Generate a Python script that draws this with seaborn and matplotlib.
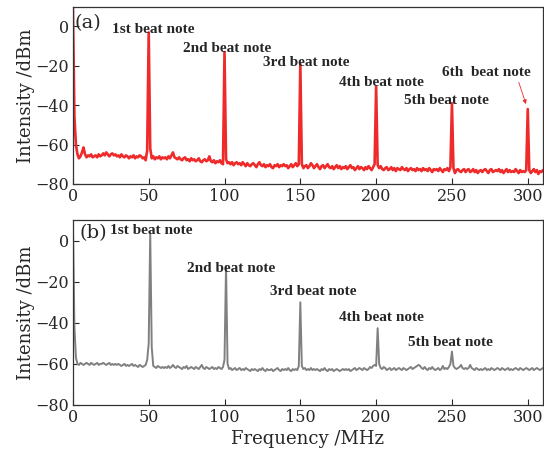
import numpy as np
import pandas as pd
import seaborn as sns
import matplotlib.pyplot as plt

# Spectrum (a), 1 MHz steps from 0 to 310 MHz, dBm
spec_a = [
    10, -46, -60, -65, -67, -66, -64, -61.5, -65, -66.5,
    -65.5, -66, -65, -66.5, -66, -65.5, -66.5, -65, -66, -65.5,
    -64.5, -65.5, -64, -65, -66, -65, -64.5, -65.5, -65, -66,
    -65.5, -66.5, -65, -66, -66.5, -65.5, -66, -67, -66, -66.5,
    -65.5, -67, -66, -66.5, -65.5, -66, -67, -66.5, -68, -63,
    -3, -62, -67, -66, -67.5, -66.5, -67, -66, -67.5, -66.5,
    -67, -66.5, -67.5, -66, -67, -65.5, -64, -66.5, -67, -67.5,
    -66.5, -67.5, -68, -67, -66.5, -68, -67.5, -68.5, -67, -68,
    -67.5, -68.5, -68, -67, -68.5, -69, -68, -67.5, -68.5, -68,
    -66, -68.5, -69, -68, -69.5, -68.5, -69, -68, -69.5, -70,
    -13, -67.5, -69.5, -69, -70, -69, -70.5, -69.5, -69, -70,
    -69.5, -70.5, -69, -70, -71, -69.5, -70.5, -71, -70, -69.5,
    -70.5, -71.5, -70, -69, -70.5, -71, -70, -71.5, -70.5, -71,
    -70, -71.5, -72, -70.5, -71, -70, -71.5, -70.5, -71, -70,
    -71, -70.5, -72, -71, -70, -71.5, -70.5, -69.5, -71, -70,
    -19, -70, -72, -71, -70.5, -72, -71, -69.5, -70.5, -72,
    -71, -70, -71.5, -72.5, -71, -70.5, -72, -71, -70, -71.5,
    -72, -71, -72.5, -71.5, -70.5, -72, -71, -72.5, -71.5, -72,
    -71, -72.5, -71.5, -70.5, -72, -71.5, -73, -72, -71, -72.5,
    -71.5, -72, -73, -71.5, -72.5, -71, -72, -73, -71.5, -70,
    -30.5, -70.5, -72, -71, -72.5, -73, -72, -71.5, -73, -72.5,
    -71.5, -73, -72, -73.5, -72, -72.5, -73, -71.5, -72.5, -73,
    -72, -73.5, -72.5, -72, -73, -72.5, -73.5, -72, -73, -72.5,
    -73.5, -72, -73, -72.5, -73.5, -72, -73, -74, -72.5, -73,
    -72.5, -73.5, -72, -73, -74, -72.5, -73, -72, -73.5, -71.5,
    -39, -72, -74.5, -73, -72.5, -73.5, -74, -73, -72.5, -74,
    -73, -72.5, -74, -73.5, -72.5, -74, -73, -74.5, -73.5, -73,
    -74, -73, -72.5, -73.5, -74.5, -73, -72.5, -74, -73.5, -73,
    -73.5, -72.5, -74, -73, -74.5, -73.5, -72.5, -74, -73, -74,
    -73.5, -74, -72.5, -73.5, -74.5, -73, -74, -73.5, -74, -73,
    -42, -73, -74.5, -73.5, -72.5, -74, -73, -75, -73.5, -74, -73,
]

# Spectrum (b), same frequency grid
spec_b = [
    10, -42, -57, -60, -60.5, -59.5, -60, -60.5, -60, -59.5,
    -60, -60.5, -59.5, -60, -60.5, -60, -59.5, -60.5, -60, -60,
    -59.5, -60, -60.5, -60, -59.5, -60.5, -60, -60.5, -60, -60.5,
    -60, -60.5, -61, -60.5, -60, -61, -60.5, -61, -60.5, -60,
    -61, -60.5, -61, -61.5, -60.5, -61, -61.5, -61, -60.5, -58,
    -50, 3.7, -52, -61, -61.5, -62, -61, -61.5, -62, -61.5,
    -62, -61.5, -62, -61, -62, -61.5, -60.5, -61.5, -62, -61,
    -61.5, -62, -62.5, -61.5, -62, -61, -62.5, -62, -61.5, -62,
    -62.5, -61.5, -62, -62.5, -61.5, -60.5, -62, -62.5, -61.5, -62,
    -62.5, -62, -61.5, -62.5, -62, -62.5, -61.5, -62, -62.5, -61.5,
    -58, -12.4, -60, -62.5, -62, -63, -62.5, -62, -63, -62.5,
    -62, -63, -62.5, -63, -62, -62.5, -63, -63.5, -62.5, -63,
    -62.5, -63, -63.5, -62.5, -63, -62, -63, -63.5, -62.5, -63,
    -63, -62.5, -63.5, -63, -62.5, -62, -63, -63.5, -62.5, -63,
    -62.5, -63, -62, -63, -63.5, -62.5, -63, -62.5, -63, -61,
    -30, -61, -62.5, -62, -63, -62.5, -63, -62, -63, -62.5,
    -63, -62.5, -63, -63.5, -62.5, -63, -62, -63, -63.5, -62.5,
    -63, -62.5, -63.5, -63, -62.5, -63, -63.5, -63, -62.5, -63,
    -62.5, -63, -62.5, -63.5, -63, -62.5, -62, -63, -62.5, -62,
    -62.5, -63, -62, -62.5, -63, -62.5, -61.5, -62, -61, -60.5,
    -61, -42.6, -60, -62, -62.5, -61.5, -62, -63, -62.5, -62,
    -63, -62.5, -62, -63, -62.5, -62, -62.5, -63, -62, -62.5,
    -63, -62.5, -62, -61.5, -62.5, -62, -61.5, -61, -60.5, -61,
    -62, -62.5, -61.5, -62.5, -63, -62, -62.5, -61.5, -62.5, -63,
    -62.5, -62, -63, -62.5, -61, -62.5, -62, -62.5, -61.5, -60,
    -54, -61, -62, -62.5, -62, -61.5, -60.5, -62, -62.5, -62,
    -62.5, -62, -60.5, -62, -62.5, -63, -62, -62.5, -63, -62.5,
    -63, -62.5, -62, -63, -62.5, -63, -62, -62.5, -63, -62.5,
    -62, -62.5, -63, -62, -62.5, -63, -62.5, -62, -63, -62.5,
    -63, -62.5, -62, -62.5, -63, -62, -62.5, -63, -62.5, -62,
    -62.5, -63, -62.5, -62, -63, -62.5, -62, -62.5, -63, -62.5, -62,
]

freq = np.arange(len(spec_a))

# beat note labels: (text, x, y) in data units
labels_a = ["1st beat note", "2nd beat note", "3rd beat note",
            "4th beat note", "5th beat note", "6th  beat note"]
label_x_a = [25.8, 72.7, 125.5, 175.4, 218.3, 243.2]
label_y_a = [-1.5, -11.4, -18.5, -28.7, -37.7, -23.6]

labels_b = ["1st beat note", "2nd beat note", "3rd beat note",
            "4th beat note", "5th beat note"]
label_x_b = [24.8, 75.4, 130, 175.4, 221.3]
label_y_b = [5.2, -13.5, -24.7, -37.6, -49.8]

df = pd.DataFrame({"Frequency": freq, "a": spec_a, "b": spec_b})

sns.set_style("ticks")
plt.rcParams['font.family'] = ['DejaVu Serif']
plt.rcParams['mathtext.fontset'] = 'dejavuserif'

fig = plt.figure(figsize=(5.44, 4.54), dpi=100)
ax1 = fig.add_axes([0.134, 0.595, 0.864, 0.390])
ax2 = fig.add_axes([0.134, 0.108, 0.864, 0.407])

sns.lineplot(data=df, x="Frequency", y="a", ax=ax1, color="#ee2a2a", lw=1.9)
sns.lineplot(data=df, x="Frequency", y="b", ax=ax2, color="#808080", lw=1.4)

for ax in (ax1, ax2):
    ax.set_xlim(0, 310)
    ax.set_ylim(-80, 10)
    ax.set_xticks([0, 50, 100, 150, 200, 250, 300])
    ax.set_yticks([0, -20, -40, -60, -80])
    ax.tick_params(direction="in", length=4, width=0.8, labelsize=11.5,
                   top=False, right=False)
    ax.tick_params(axis="x", pad=3)
    ax.tick_params(axis="y", pad=3)
    for s in ax.spines.values():
        s.set_linewidth(0.9)
        s.set_color("#333333")
    ax.set_ylabel("Intensity /dBm", fontsize=13, labelpad=0)
    ax.set_xlabel("")

ax2.set_xlabel("Frequency /MHz", fontsize=13, labelpad=3)

bold = dict(family="Liberation Serif", fontweight="bold", fontsize=11,
            va="center", ha="left")

ax1.text(1.3, 1.5, "(a)", fontsize=14, va="center", ha="left")
for t, x, y in zip(labels_a, label_x_a, label_y_a):
    ax1.text(x, y, t, **bold)
ax1.annotate("", xy=(299.4, -40.8), xytext=(293.5, -27),
             arrowprops=dict(arrowstyle="-|>", color="#ee2a2a", lw=0.6,
                             mutation_scale=6))

ax2.text(4.4, 3.6, "(b)", fontsize=14, va="center", ha="left")
for t, x, y in zip(labels_b, label_x_b, label_y_b):
    ax2.text(x, y, t, **bold)

fig.savefig("out.png", dpi=100)
